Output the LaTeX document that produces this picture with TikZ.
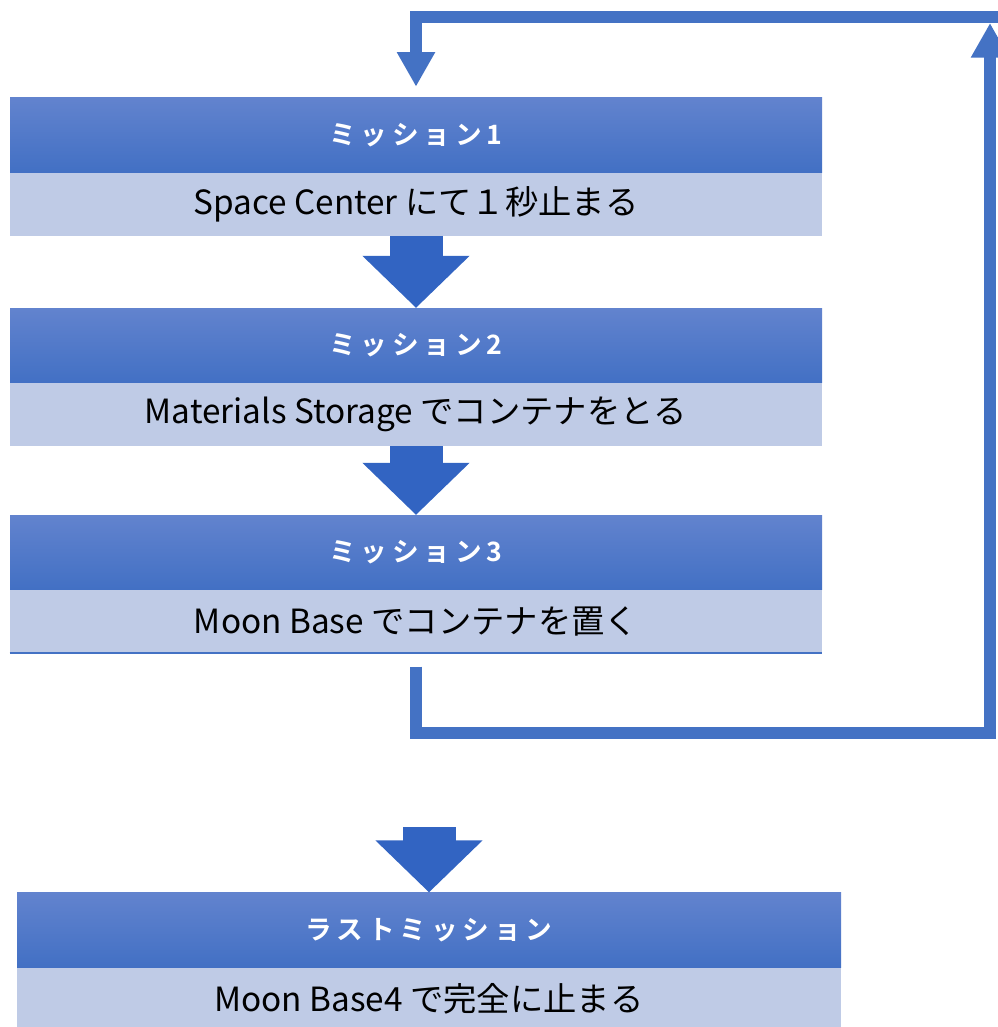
\documentclass[tikz,border=0pt]{standalone}
\usepackage{fontspec}
\setmainfont{Noto Sans CJK JP}[BoldFont={Noto Sans CJK JP Bold}]
\usepackage{tikz}
\usetikzlibrary{arrows.meta}
\usetikzlibrary{positioning}

\definecolor{headtop}{RGB}{98,131,206}
\definecolor{headbot}{RGB}{66,112,196}
\definecolor{bodyfill}{RGB}{191,203,230}
\definecolor{blockblue}{RGB}{50,100,194}
\definecolor{lineblue}{RGB}{68,114,196}

\begin{document}
\begin{tikzpicture}[x=0.75pt,y=-0.75pt,
  head node/.style={top color=headtop,bottom color=headbot,text=white,
  font=\bfseries\fontsize{20}{24}\selectfont\addfontfeature{LetterSpace=18},
  minimum width=609pt,minimum height=56pt,inner sep=0pt},
  body node/.style={fill=bodyfill,font=\fontsize{25}{29}\selectfont,
  minimum width=609pt,minimum height=47pt,inner sep=0pt},
  block arrow/.style={draw=blockblue,line width=39.75pt,
  -{Triangle[width=78pt,length=39pt]}},
  loop line/.style={draw=lineblue,line width=9.5pt,
  -{Triangle[width=27pt,length=26pt]}}]

  \useasboundingbox (0,0) rectangle (997,1027);

  \node[head node] (h1) at (416,135) {ミッション1};
  \node[body node,below=0pt of h1] (b1) {Space Center にて１秒止まる};
  \node[head node] (h2) at (416,345.5) {ミッション2};
  \node[body node,below=0pt of h2] (b2) {Materials Storage でコンテナをとる};
  \node[head node] (h3) at (416,552.5) {ミッション3};
  \node[body node,below=0pt of h3] (b3) {Moon Base でコンテナを置く};
  \node[head node,minimum width=618pt] (hl) at (429,930) {ラストミッション};
  \node[body node,minimum width=618pt,below=0pt of hl] (bl) {Moon Base4 で完全に止まる};

  \draw[lineblue,line width=1.5pt] (b3.south west) -- (b3.south east);

  \draw[block arrow] (b1.south) -- (h2.north);
  \draw[block arrow] (b2.south) -- (h3.north);
  \coordinate (last in) at (429,827);
  \draw[block arrow] (last in) -- (hl.north);

  % loop back to the first mission
  \coordinate (turn) at (990,733);
  \coordinate (rise) at (990,23);
  \coordinate (back) at (1000,17);
  \draw[loop line,shorten <=10pt] (b3.south) |- (turn) -- (rise);
  \draw[loop line,shorten >=8pt] (back) -| (h1.north);

\end{tikzpicture}
\end{document}
